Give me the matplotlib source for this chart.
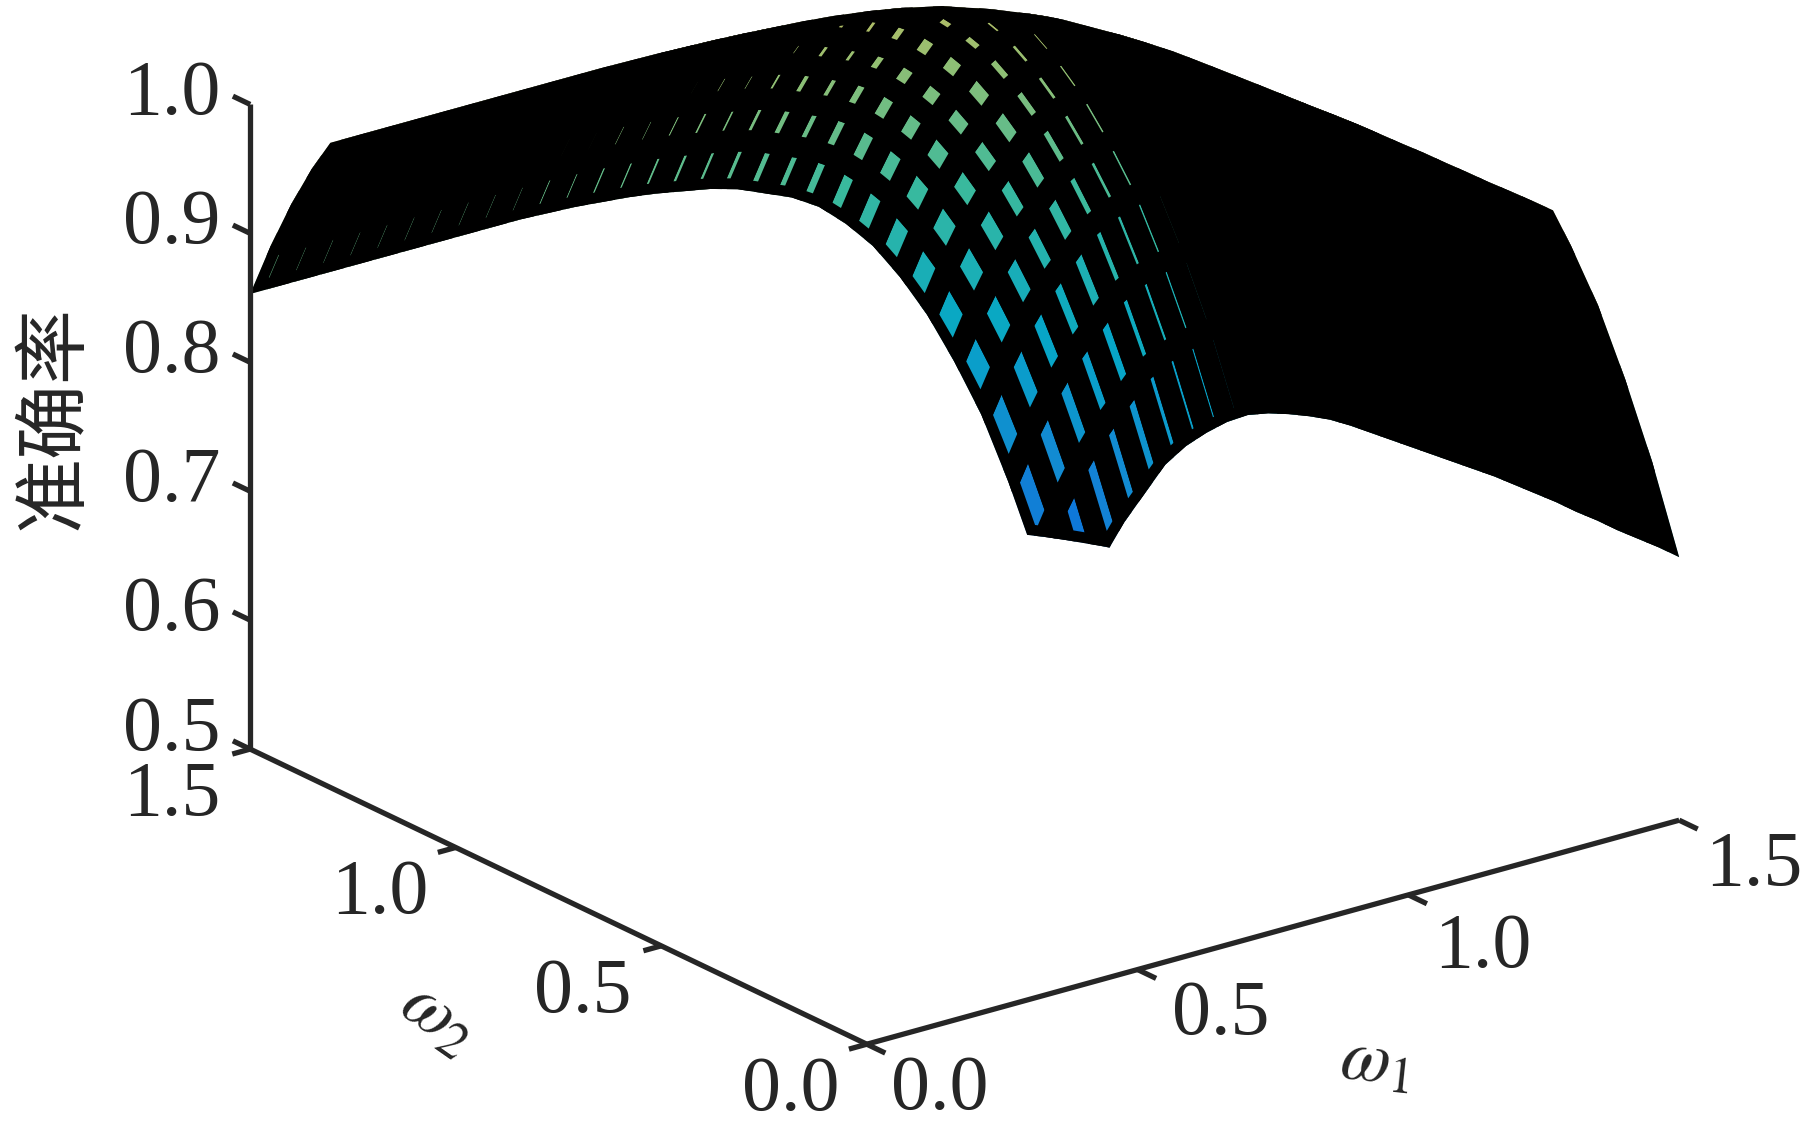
import numpy as np
import matplotlib
matplotlib.use("Agg")
import matplotlib.pyplot as plt
from matplotlib.colors import LinearSegmentedColormap, Normalize
from matplotlib.path import Path
from mpl_toolkits.mplot3d import proj3d
from mpl_toolkits.mplot3d.art3d import Poly3DCollection

# ---- data (accuracy x 1000; rows: w2 = 0..1.5, columns: w1 = 0..1.5) ----
w1_values = [i / 20 for i in range(31)]
w2_values = [i / 20 for i in range(31)]
accuracy_milli = [
    [1202]*11 + [1201,1200,1198,1196,1193,1189,1185,1179,1170,1161,1143,1119,1091,1056,1016,969,917,854,784,704],
    [1199]*11 + [1198,1197,1195,1193,1190,1186,1182,1176,1167,1158,1141,1117,1089,1054,1015,968,916,854,784,704],
    [1196]*11 + [1195,1194,1192,1190,1187,1183,1179,1173,1164,1155,1138,1114,1087,1052,1013,966,915,852,783,703],
    [1192]*11 + [1191,1190,1188,1186,1183,1179,1175,1169,1160,1151,1134,1111,1084,1050,1010,964,913,851,781,702],
    [1190]*11 + [1189,1188,1186,1184,1181,1177,1173,1167,1158,1149,1132,1109,1082,1048,1009,963,912,850,781,702],
    [1186]*11 + [1185,1184,1182,1180,1177,1173,1169,1163,1154,1145,1129,1106,1079,1045,1007,961,910,849,780,701],
    [1184]*11 + [1183,1182,1180,1178,1175,1171,1167,1161,1152,1143,1127,1104,1078,1044,1006,960,910,848,780,701],
    [1180]*11 + [1179,1178,1176,1174,1171,1167,1163,1157,1148,1139,1123,1101,1075,1042,1003,958,908,847,778,700],
    [1177]*11 + [1176,1175,1173,1171,1168,1164,1160,1154,1145,1136,1120,1098,1072,1039,1001,956,906,845,777,699],
    [1173]*11 + [1172,1171,1169,1167,1164,1160,1156,1150,1141,1132,1117,1095,1069,1037,999,954,904,844,776,698],
    [1169]*11 + [1168,1167,1165,1163,1160,1156,1152,1146,1137,1128,1113,1091,1066,1033,996,951,902,841,774,696],
    [1164]*11 + [1163,1162,1160,1158,1155,1151,1147,1141,1132,1123,1108,1087,1062,1030,992,948,899,839,771,694],
    [1160]*11 + [1159,1158,1156,1154,1151,1147,1143,1137,1128,1119,1104,1083,1058,1026,989,945,896,836,769,692],
    [1155]*11 + [1154,1153,1151,1149,1146,1142,1138,1132,1123,1114,1100,1079,1054,1023,986,942,893,834,767,690],
    [1151]*11 + [1150,1149,1147,1145,1142,1138,1134,1128,1119,1110,1096,1075,1051,1019,983,939,891,831,765,688],
    [1146]*11 + [1145,1144,1142,1140,1137,1133,1129,1123,1114,1105,1091,1071,1047,1016,979,936,888,829,762,686],
    [1142]*11 + [1141,1140,1138,1136,1133,1129,1125,1119,1110,1101,1087,1067,1043,1012,976,933,885,826,760,684],
    [1136]*11 + [1135,1134,1132,1130,1127,1123,1119,1113,1104,1095,1082,1062,1038,1008,972,929,881,823,757,681],
    [1129]*11 + [1128,1127,1125,1123,1120,1116,1112,1106,1097,1088,1075,1055,1032,1001,966,923,876,817,752,676],
    [1120]*11 + [1119,1118,1116,1114,1111,1107,1103,1097,1088,1079,1066,1047,1024,994,958,916,869,811,745,670],
    [1111]*11 + [1110,1109,1107,1105,1102,1098,1094,1088,1079,1070,1057,1038,1015,985,950,908,861,803,738,663],
    [1102]*11 + [1101,1100,1098,1096,1093,1089,1085,1079,1070,1061,1048,1029,1006,976,941,899,852,794,729,654],
    [1089]*11 + [1088,1087,1085,1083,1080,1076,1072,1066,1057,1048,1035,1016,993,963,928,886,839,781,716,641],
    [1073]*11 + [1072,1071,1069,1067,1064,1060,1056,1050,1041,1032,1019,1000,977,947,912,870,823,765,700,625],
    [1055]*11 + [1054,1053,1051,1049,1046,1042,1038,1032,1023,1014,1001,982,959,929,894,852,805,747,682,607],
    [1033]*11 + [1032,1031,1029,1027,1024,1020,1016,1010,1001,992,979,960,937,907,872,830,783,725,660,585],
    [1003]*11 + [1002,1001,999,997,994,990,986,980,971,962,949,930,907,877,842,800,753,695,630,555],
    [973]*11 + [972,971,969,967,964,960,956,950,941,932,919,900,877,847,812,770,723,665,600,525],
    [938]*11 + [937,936,934,932,929,925,921,915,906,897,884,865,842,812,777,735,688,630,565,490],
    [898]*11 + [897,896,894,892,889,885,881,875,866,857,844,825,802,772,737,695,648,590,525,450],
    [853]*11 + [852,851,849,847,844,840,836,830,821,812,799,780,757,727,692,650,603,545,480,405],
]
z_ticks = [0.5, 0.6, 0.7, 0.8, 0.9, 1.0]
w_ticks = [0.0, 0.5, 1.0, 1.5]

INK = "#262626"
SERIF = "Liberation Serif"
TICK_PT = 56

plt.rcParams["mathtext.fontset"] = "stix"

W = 1900.0
fig = plt.figure(figsize=(18.01, 11.36), dpi=100, facecolor="white")
ax = fig.add_axes([-11 / 1801, -302 / 1136, W / 1801, W / 1136], projection="3d", proj_type="ortho")
ax.computed_zorder = False
ax.set_axis_off()
ax.view_init(elev=21.3, azim=-127.2)
ax.set_box_aspect((1020, 1020, 692), zoom=1553 / W)
ax.set_xlim(0, 1.5)
ax.set_ylim(0, 1.5)
ax.set_zlim(0.5, 1.0)
ax.set_autoscale_on(False)

Z = np.array(accuracy_milli, dtype=float) / 1000.0
X = np.array(w1_values)
Y = np.array(w2_values)


def clip_plane(poly, limit, keep_below):
    """Cut a polygon by the horizontal plane z = limit (the axis limits hide the rest)."""
    out = []
    for k in range(len(poly)):
        a, b = poly[k], poly[(k + 1) % len(poly)]
        ina = a[2] <= limit if keep_below else a[2] >= limit
        inb = b[2] <= limit if keep_below else b[2] >= limit
        if ina:
            out.append(a)
        if ina != inb:
            t = (limit - a[2]) / (b[2] - a[2])
            out.append(tuple(a[m] + t * (b[m] - a[m]) for m in range(3)))
    return out


parula = LinearSegmentedColormap.from_list(
    "parula_like",
    ["#352A87", "#0363E1", "#1485D4", "#06A7C6", "#38B99E", "#92BF73", "#D9BA56", "#FCCE2E", "#F9FB0E"],
)
norm = Normalize(0.30, 1.32)

polys, colors = [], []
for j in range(len(Y) - 1):
    for i in range(len(X) - 1):
        quad = [(X[i], Y[j], Z[j, i]), (X[i + 1], Y[j], Z[j, i + 1]),
                (X[i + 1], Y[j + 1], Z[j + 1, i + 1]), (X[i], Y[j + 1], Z[j + 1, i])]
        mean_z = np.mean([p[2] for p in quad])
        poly = clip_plane(quad, 1.0, True)
        if len(poly) >= 3:
            poly = clip_plane(poly, 0.5, False)
        if len(poly) >= 3:
            polys.append(poly)
            colors.append(parula(norm(mean_z)))

surface = Poly3DCollection(polys, facecolors=colors, edgecolors="black", linewidths=15.5,
                           joinstyle="round", zsort="average")
ax.add_collection3d(surface, autolim=False)

# the outline of the visible surface keeps the wide mesh lines inside it
M = ax.get_proj()
paths = []
for poly in polys:
    arr = np.array(poly)
    px, py, _ = proj3d.proj_transform(arr[:, 0], arr[:, 1], arr[:, 2], M)
    pts = np.column_stack([px, py])
    area = 0.5 * np.sum(pts[:, 0] * np.roll(pts[:, 1], -1) - np.roll(pts[:, 0], -1) * pts[:, 1])
    if area < 0:
        pts = pts[::-1]
    paths.append(Path(np.vstack([pts, pts[0]]), closed=True))
surface.set_clip_path(Path.make_compound_path(*paths), ax.transData)

# axes drawn as lines in data coordinates
line_kw = dict(color=INK, lw=3.8, solid_capstyle="butt", zorder=5)
ax.plot([0, 0], [1.5, 1.5], [0.5, 1.0], **line_kw)
ax.plot([0, 0], [0, 1.5], [0.5, 0.5], **line_kw)
ax.plot([0, 1.5], [0, 0], [0.5, 0.5], **line_kw)
for z in z_ticks:
    ax.plot([0, 0], [1.5, 1.542], [z, z], **line_kw)
for w in w_ticks:
    ax.plot([0, -0.033], [w, w], [0.5, 0.5], **line_kw)
    ax.plot([w, w], [0, -0.045], [0.5, 0.5], **line_kw)


def label(x, y, z, text, dx, dy, **kw):
    px, py, _ = proj3d.proj_transform(x, y, z, M)
    opts = dict(family=SERIF, fontsize=TICK_PT, color=INK, va="center", annotation_clip=False)
    opts.update(kw)
    ax.annotate(text, xy=(px, py), xycoords="data", xytext=(dx, dy), textcoords="offset pixels", **opts)


for z in z_ticks:
    label(0, 1.5, z, f"{z:.1f}", -30, 18 if z == 0.5 else 9, ha="right")
w2_dx = {0.0: -27, 0.5: -30, 1.0: -27, 1.5: -30}
for w in w_ticks:
    label(0, w, 0.5, f"{w:.1f}", w2_dx[w], -47, ha="right")
w1_off = {0.0: (24, -46), 0.5: (34, -46), 1.0: (26, -53), 1.5: (26, -46)}
for w in w_ticks:
    label(w, 0, 0.5, f"{w:.1f}", *w1_off[w], ha="left")

fig.text(439 / 1801, 1 - 1017 / 1136, r"$\omega_2$", fontsize=52, color=INK, rotation=-35,
         ha="center", va="center")
fig.text(1376 / 1801, 1 - 1062 / 1136, r"$\omega_1$", fontsize=52, color=INK, rotation=-6,
         ha="center", va="center")
fig.text(54 / 1801, 1 - 418 / 1136, "准确率", family="Noto Sans CJK SC", fontsize=54, color=INK,
         rotation=90, ha="center", va="center")

fig.savefig("out.png", dpi=100, facecolor="white")
